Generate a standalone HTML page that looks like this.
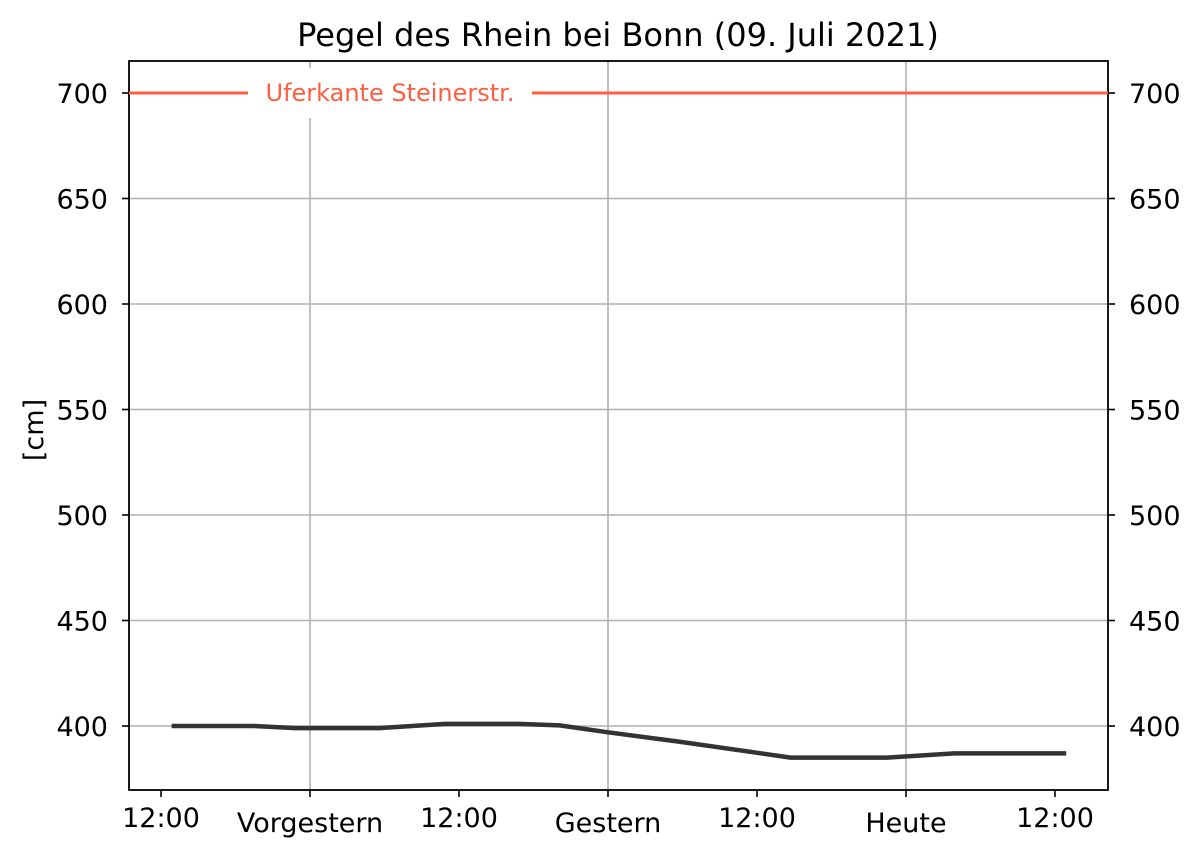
<!DOCTYPE html>
<html><head><meta charset="utf-8"><style>
body{margin:0;background:#fff;}
svg text{font-family:"DejaVu Sans","Liberation Sans",sans-serif;}
</style></head><body>
<svg id="chart" width="1200" height="857" viewBox="0 0 1200 857">
<rect width="1200" height="857" fill="#fff"/>
<text x="618" y="46" font-size="32" text-anchor="middle" fill="#000">Pegel des Rhein bei Bonn (09. Juli 2021)</text>
<g id="grid"></g>
<g id="axes"></g>
<g id="series"></g>
<text transform="translate(43,430) rotate(-90)" font-size="27" text-anchor="middle">[cm]</text>
</svg>
<script>
const hours = [0.85, 7.5, 10.8, 17.6, 22.9, 28.8, 32.1, 36, 41.7, 50.7, 58.5, 63.9, 72.9];
const levels = [400, 400, 399, 399, 401, 401, 400.3, 397, 392.6, 385, 385, 387, 387];
const yTicks = [400, 450, 500, 550, 600, 650, 700];
const xTickHours = [0, 12, 24, 36, 48, 60, 72];
const xTickLabels = ["12:00", "Vorgestern", "12:00", "Gestern", "12:00", "Heute", "12:00"];
const thresholdValue = 700;
const thresholdLabel = "Uferkante Steinerstr.";

const L=129,R=1108,T=61,B=790;
const xs=h=>161+h*(298/24);
const ys=v=>726-(v-400)*(633/300);
const NS="http://www.w3.org/2000/svg";
function mk(tag,attrs,parent){const e=document.createElementNS(NS,tag);for(const k in attrs)e.setAttribute(k,attrs[k]);parent.appendChild(e);return e;}
const grid=document.getElementById('grid'),axes=document.getElementById('axes'),series=document.getElementById('series');

yTicks.forEach(v=>{const y=ys(v);
 const g=mk('line',{x1:L,x2:R,y1:y,y2:y,stroke:'#b0b0b0','stroke-width':1.6},grid);
 
 
 mk('line',{x1:L-7,x2:L,y1:y,y2:y,stroke:'#000','stroke-width':1.6},axes);
 mk('line',{x1:R,x2:R+7,y1:y,y2:y,stroke:'#000','stroke-width':1.6},axes);
 const t1=mk('text',{x:L-21,y:y+10,'font-size':27,'text-anchor':'end'},axes);t1.textContent=v;
 
 
 const t2=mk('text',{x:R+21,y:y+10,'font-size':27,'text-anchor':'start'},axes);t2.textContent=v;
 
 
});
xTickHours.forEach((h,i)=>{const x=xs(h);const day=i%2===1;
 if(day){const g=mk('line',{x1:x,x2:x,y1:T,y2:B,stroke:'#b0b0b0','stroke-width':1.6},grid);
  
  }
 mk('line',{x1:x,x2:x,y1:B,y2:B+7,stroke:'#000','stroke-width':1.6},axes);
 const t=mk('text',{x:x,y:day?832:827,'font-size':27,'text-anchor':'middle'},axes);t.textContent=xTickLabels[i];
 
 
});
const ty=ys(thresholdValue);
const th=mk('line',{x1:L,x2:R,y1:ty,y2:ty,stroke:'#fd5f3f','stroke-width':3},series);


mk('rect',{x:248,y:ty-25,width:284,height:50,fill:'#fff'},series);
const tl=mk('text',{x:390,y:ty+8,'font-size':24,'text-anchor':'middle',fill:'#fd5f3f'},series);tl.textContent=thresholdLabel;


const d=hours.map((h,i)=>(i?'L':'M')+xs(h).toFixed(1)+','+ys(levels[i]).toFixed(1)).join(' ');
const p=mk('path',{d:d,fill:'none',stroke:'#333','stroke-width':4.5,'stroke-linejoin':'round'},series);


const f=mk('rect',{x:L,y:T,width:R-L,height:B-T,fill:'none',stroke:'#000','stroke-width':1.8},axes);


</script>
</body></html>
